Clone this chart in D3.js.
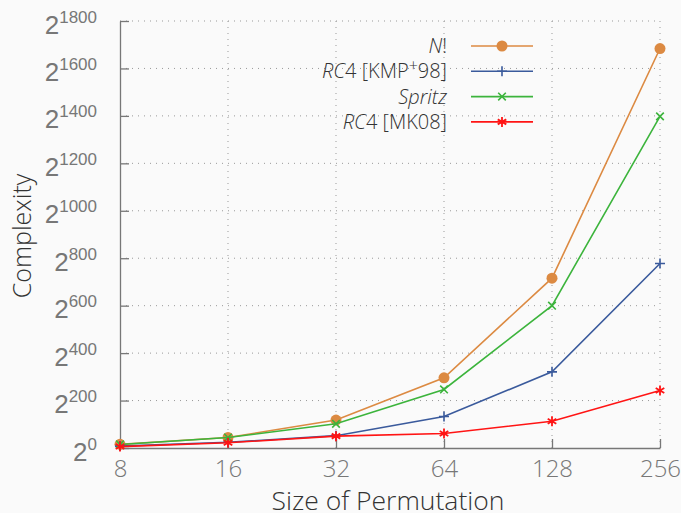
<!DOCTYPE html>
<html>
<head>
<meta charset="utf-8">
<script src="https://cdn.jsdelivr.net/npm/d3@7"></script>
<style>
  body { margin: 0; background: #fafafa; }
  svg { font-family: "Open Sans", sans-serif; font-weight: 300; }
</style>
</head>
<body>
<script>
// sizes of permutation (x) and log2 of complexity (y)
var sizes = [8, 16, 32, 64, 128, 256];
var yTicks = [0, 200, 400, 600, 800, 1000, 1200, 1400, 1600, 1800];
var factorial = [15.3, 44.3, 117.7, 296, 716, 1684];
var rc4kmp = [8, 24, 52, 133, 321, 778];
var spritz = [15, 44, 102, 247, 600, 1398];
var rc4mk = [6, 22, 50, 61, 113, 242];

var width = 681, height = 513;
var plotLeft = 120, plotRight = 660, plotTop = 21, plotBottom = 448;

var svg = d3.select("body").append("svg")
    .attr("width", width).attr("height", height);

svg.append("rect").attr("width", width).attr("height", height).attr("fill", "#fafafa");

var x = d3.scaleLog().base(2).domain([8, 256]).range([plotLeft, plotRight]);
var y = d3.scaleLinear().domain([0, 1800]).range([plotBottom, plotTop]);

// grid
svg.append("g").selectAll("line").data(yTicks.slice(1)).enter().append("line")
    .attr("x1", plotLeft).attr("x2", plotRight)
    .attr("y1", function(d) { return y(d); }).attr("y2", function(d) { return y(d); })
    .attr("stroke", "#999").attr("stroke-width", 1).attr("stroke-dasharray", "1,5");
svg.append("g").selectAll("line").data(sizes.slice(1)).enter().append("line")
    .attr("x1", function(d) { return x(d); }).attr("x2", function(d) { return x(d); })
    .attr("y1", plotTop).attr("y2", plotBottom)
    .attr("stroke", "#999").attr("stroke-width", 1).attr("stroke-dasharray", "1,5");

// axes, ticks pointing inward
var xAxis = svg.append("g").attr("transform", "translate(0," + plotBottom + ")")
    .call(d3.axisBottom(x).tickValues(sizes).tickSize(-9).tickSizeOuter(0).tickFormat(d3.format("d")));
xAxis.select(".domain").attr("stroke", "#777").attr("stroke-width", 1.3);
xAxis.selectAll(".tick line").attr("stroke", "#777").attr("stroke-width", 1.3);
xAxis.selectAll("text").attr("fill", "#777").attr("font-size", 24)
    .attr("font-family", "Open Sans").attr("font-weight", 300).attr("dy", "1.08em");

var yAxis = svg.append("g").attr("transform", "translate(" + plotLeft + ",0)")
    .call(d3.axisLeft(y).tickValues(yTicks).tickSize(-9).tickSizeOuter(0).tickFormat(""));
yAxis.select(".domain").attr("stroke", "#777").attr("stroke-width", 1.3);
yAxis.selectAll(".tick line").attr("stroke", "#777").attr("stroke-width", 1.3);

var yl = yAxis.selectAll(".tick").append("text")
    .attr("x", -23).attr("y", 12).attr("text-anchor", "end")
    .attr("fill", "#777").attr("font-size", 26);
yl.append("tspan").text("2");
yl.append("tspan").attr("dy", -11).attr("font-size", 17).text(function(d) { return d; });

// axis titles
svg.append("text").attr("x", 388).attr("y", 510)
    .attr("text-anchor", "middle").attr("font-size", 26.5).attr("fill", "#333")
    .text("Size of Permutation");
svg.append("text").attr("transform", "translate(31,236) rotate(-90)")
    .attr("text-anchor", "middle").attr("font-size", 25).attr("fill", "#333")
    .text("Complexity");

// series
var series = [
  { name: "factorial", values: factorial, color: "#dc8a42", marker: "circle" },
  { name: "rc4kmp", values: rc4kmp, color: "#3a5a9c", marker: "plus" },
  { name: "spritz", values: spritz, color: "#3cb43c", marker: "cross" },
  { name: "rc4mk", values: rc4mk, color: "#ff1414", marker: "star" }
];

var line = d3.line()
    .x(function(d, i) { return x(sizes[i]); })
    .y(function(d) { return y(d); });

function drawMarker(g, type, color) {
  var s = 5;
  if (type == "circle") {
    g.append("circle").attr("r", 5.5).attr("fill", color);
  } else if (type == "plus") {
    g.append("path").attr("d", "M" + -s + ",0H" + s + "M0," + -s + "V" + s)
        .attr("stroke", color).attr("stroke-width", 1.6);
  } else if (type == "cross") {
    var c = 3.8;
    g.append("path").attr("d", "M" + -c + "," + -c + "L" + c + "," + c + "M" + -c + "," + c + "L" + c + "," + -c)
        .attr("stroke", color).attr("stroke-width", 1.6);
  } else {
    var c2 = 4.3;
    g.append("path").attr("d", "M0," + -s + "V" + s + "M" + -c2 + "," + -2.5 + "L" + c2 + "," + 2.5 + "M" + -c2 + "," + 2.5 + "L" + c2 + "," + -2.5)
        .attr("stroke", color).attr("stroke-width", 1.8);
  }
}

series.forEach(function(s) {
  svg.append("path").datum(s.values).attr("d", line)
      .attr("fill", "none").attr("stroke", s.color).attr("stroke-width", 1.6);
  s.values.forEach(function(v, i) {
    var g = svg.append("g").attr("transform", "translate(" + x(sizes[i]) + "," + y(v) + ")");
    drawMarker(g, s.marker, s.color);
  });
});

// legend
var legendRows = [
  { s: series[0], parts: [["N", "italic"], ["!", "normal"]] },
  { s: series[1], parts: [["RC", "italic"], ["4 [KMP", "normal"], ["+", "sup"], ["98]", "normal"]] },
  { s: series[2], parts: [["Spritz", "italic"]] },
  { s: series[3], parts: [["RC", "italic"], ["4 [MK08]", "normal"]] }
];

legendRows.forEach(function(r, i) {
  var ly = 46 + i * 25.3;
  var t = svg.append("text").attr("x", 447).attr("y", ly + 7)
      .attr("text-anchor", "end").attr("font-size", 20).attr("fill", "#333");
  r.parts.forEach(function(p) {
    var ts = t.append("tspan").text(p[0]);
    if (p[1] == "italic") ts.attr("font-style", "italic");
    if (p[1] == "sup") ts.attr("font-size", 16).attr("dy", -7);
    if (p[1] == "normal" && p[0] == "98]") ts.attr("dy", 7);
  });
  svg.append("line").attr("x1", 471).attr("x2", 533).attr("y1", ly).attr("y2", ly)
      .attr("stroke", r.s.color).attr("stroke-width", 1.6);
  var g = svg.append("g").attr("transform", "translate(502," + ly + ")");
  drawMarker(g, r.s.marker, r.s.color);
});
</script>
</body>
</html>
